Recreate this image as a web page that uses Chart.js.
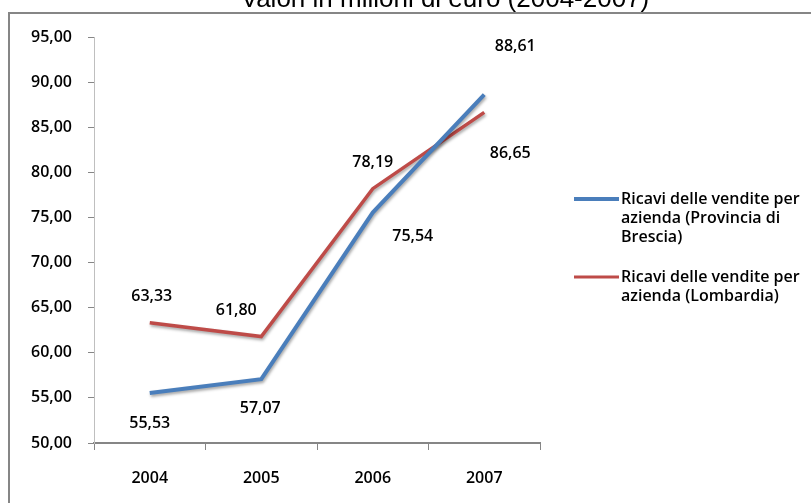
<!DOCTYPE html>
<html>
<head>
<meta charset="utf-8">
<script src="https://cdn.jsdelivr.net/npm/chart.js@4.4.1/dist/chart.umd.min.js"></script>
<style>
  html, body { margin: 0; padding: 0; background: #fff; }
  #wrap { width: 811px; height: 503px; }
</style>
</head>
<body>
<div id="wrap"><canvas id="myChart" width="811" height="503"></canvas></div>
<script>
"use strict";
const titleText = 'Valori in milioni di euro (2004-2007)';
const years = ['2004', '2005', '2006', '2007'];
const brescia = [55.53, 57.07, 75.54, 88.61];
const lombardia = [63.33, 61.80, 78.19, 86.65];
// legend text, already broken into lines like the original
const bresciaName = ['Ricavi delle vendite per', 'azienda (Provincia di', 'Brescia)'];
const lombardiaName = ['Ricavi delle vendite per', 'azienda (Lombardia)'];
const yMin = 50, yMax = 95, yStep = 5;

const blue = '#4a7ebb';
const red = '#be4b48';
const fontFam = '"Open Sans", "DejaVu Sans", sans-serif';

// where each value label sits relative to its point (pixels)
const labelShift = [
  [[0, 30], [-1, 29], [40, 24], [31, -48]],
  [[2, -26], [-25, -26], [0, -26], [26, 41]]
];

function fmt(v) {
  return v.toFixed(2).replace('.', ',');
}

const framePlugin = {
  id: 'frame',
  beforeDraw(chart) {
    const c = chart.ctx;
    c.save();
    c.fillStyle = '#fff';
    c.fillRect(0, 0, chart.width, chart.height);
    c.strokeStyle = '#868686';
    c.lineWidth = 2;
    c.strokeRect(9, 13, chart.width + 20, chart.height + 20);
    c.fillStyle = '#000';
    c.font = '26px "Liberation Sans", Arial, sans-serif';
    c.textAlign = 'center';
    c.textBaseline = 'alphabetic';
    c.fillText(titleText, 445, 7);
    c.restore();
  },
  beforeDatasetDraw(chart) {
    const c = chart.ctx;
    c.save();
    c.shadowColor = 'rgba(0,0,0,0.35)';
    c.shadowBlur = 3;
    c.shadowOffsetX = 1;
    c.shadowOffsetY = 2;
  },
  afterDatasetDraw(chart) {
    chart.ctx.restore();
  },
  afterDatasetsDraw(chart) {
    const c = chart.ctx;
    c.save();
    c.fillStyle = '#000';
    c.font = '600 16px ' + fontFam;
    c.textAlign = 'center';
    c.textBaseline = 'middle';
    chart.data.datasets.forEach((ds, i) => {
      const meta = chart.getDatasetMeta(i);
      meta.data.forEach((pt, j) => {
        const s = labelShift[i][j];
        c.fillText(fmt(ds.data[j]), pt.x + s[0], pt.y + s[1]);
      });
    });

    // legend on the right
    const entries = [[bresciaName, blue, 4, 199], [lombardiaName, red, 3, 277]];
    c.textAlign = 'left';
    entries.forEach(e => {
      c.strokeStyle = e[1];
      c.lineWidth = e[2];
      c.beginPath();
      c.moveTo(574, e[3]);
      c.lineTo(619, e[3]);
      c.stroke();
      e[0].forEach((line, k) => {
        c.fillText(line, 621, e[3] + k * 19);
      });
    });
    c.restore();
  }
};

new Chart(document.getElementById('myChart'), {
  type: 'line',
  plugins: [framePlugin],
  data: {
    labels: years,
    datasets: [{
      label: bresciaName.join(' '),
      data: brescia,
      borderColor: blue,
      borderWidth: 4,
      pointRadius: 0,
      tension: 0
    },
    {
      label: lombardiaName.join(' '),
      data: lombardia,
      borderColor: red,
      borderWidth: 3.5,
      pointRadius: 0,
      tension: 0
    }]
  },
  options: {
    responsive: false,
    animation: false,
    layout: { padding: { left: 0, top: 37, right: 271, bottom: 0 } },
    plugins: {
      legend: { display: false },
      title: { display: false },
      tooltip: { enabled: false }
    },
    scales: {
      x: {
        offset: true,
        afterFit(scale) { scale.height = 60; },
        grid: { offset: true, drawOnChartArea: false, tickLength: 7, color: '#868686' },
        border: { color: '#868686', width: 2 },
        ticks: { color: '#000', padding: 19, font: { family: fontFam, size: 16, weight: '600' } }
      },
      y: {
        min: yMin,
        max: yMax,
        afterFit(scale) { scale.width = 94; },
        grid: { drawOnChartArea: false, tickLength: 6, color: '#868686' },
        border: { color: '#bfbfbf', width: 1 },
        ticks: {
          stepSize: yStep,
          color: '#000',
          padding: 16,
          font: { family: fontFam, size: 16, weight: '600' },
          callback: v => fmt(v)
        }
      }
    }
  }
});
</script>
</body>
</html>
